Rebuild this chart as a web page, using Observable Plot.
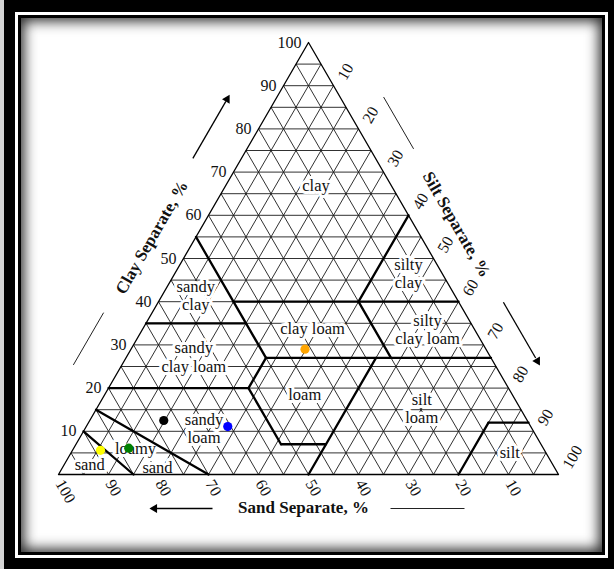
<!DOCTYPE html>
<html>
<head>
<meta charset="utf-8">
<script src="https://cdn.jsdelivr.net/npm/d3@7"></script>
<script src="https://cdn.jsdelivr.net/npm/@observablehq/plot@0.6"></script>
<style>
html, body { margin: 0; padding: 0; width: 614px; height: 569px; overflow: hidden; background: #000; }
#strip { position: absolute; left: 0; top: 0; width: 4px; height: 569px; background: #d4d4d4; }
#f1 { position: absolute; left: 15px; top: 12px; width: 593px; height: 546px; background: #fff; }
#f2 { position: absolute; left: 18px; top: 15px; width: 587px; height: 540px; background: #000; }
#f3 { position: absolute; left: 21px; top: 18px; width: 581px; height: 534px; background: #fff;
      box-shadow: inset 0 0 13px 3px rgba(0,0,0,0.85); }
#chart { position: absolute; left: 0; top: 0; }
</style>
</head>
<body>
<div id="strip"></div>
<div id="f1"></div>
<div id="f2"></div>
<div id="f3"></div>
<div id="chart"></div>
<script>
// ---------- data ----------
const gridSteps = [5, 10, 15, 20, 25, 30, 35, 40, 45, 50, 55, 60, 65, 70, 75, 80, 85, 90, 95];
const clayTicks = [10, 20, 30, 40, 50, 60, 70, 80, 90, 100];
const siltTicks = [10, 20, 30, 40, 50, 60, 70, 80, 90, 100];
const sandTicks = [100, 90, 80, 70, 60, 50, 40, 30, 20, 10];

// texture class labels (position in % clay / % silt)
const classNames = ["clay", "sandy\nclay", "sandy\nclay loam", "clay loam", "silty\nclay",
  "silty\nclay loam", "loam", "silt\nloam", "silt", "sandy\nloam", "loamy", "sand", "sand"];
const classClay = [67, 41.5, 27.3, 33.8, 46.6, 33.6, 18.5, 15.3, 5.1, 10.8, 6.0, 1.6, 2.5];
const classSilt = [18, 6.7, 13.4, 33.9, 46.7, 57, 40, 65, 87.7, 23.7, 12.4, 19, 5];

// USDA class boundaries: segment from (clay, silt) to (clay, silt)
const boundFromClay = [40, 55, 60, 35, 27, 40, 20, 20, 20, 7, 27, 0, 12, 15, 10];
const boundFromSilt = [15, 0, 40, 0, 28, 40, 0, 28, 28, 41, 50, 80, 80, 0, 0];
const boundToClay   = [40, 27, 40, 35, 27, 27, 20, 27, 7, 7, 0, 12, 12, 0, 0];
const boundToSilt   = [60, 28, 40, 20, 73, 53, 28, 28, 41, 50, 50, 80, 88, 30, 15];

// samples
const sampleColors = ["black", "blue", "yellow", "green", "orange"];
const sampleSand = [72.7, 60.6, 88.8, 82.9, 36.2];
const sampleSilt = [14.8, 28.3, 5.6, 11.0, 34.8];
const sampleClay = [12.5, 11.1, 5.6, 6.1, 29.0];

// ---------- ternary helpers ----------
const tx = (clay, silt) => silt + clay / 2; // horizontal coordinate
const ty = (clay) => clay;                   // vertical coordinate

const grid = [];
for (const c of gridSteps) grid.push({x1: tx(c, 0), y1: ty(c), x2: tx(c, 100 - c), y2: ty(c)});
for (const s of gridSteps) grid.push({x1: tx(0, s), y1: ty(0), x2: tx(100 - s, s), y2: ty(100 - s)});
for (const a of gridSteps) { const r = 100 - a; grid.push({x1: tx(0, r), y1: ty(0), x2: tx(r, 0), y2: ty(r)}); }

const bounds = boundFromClay.map((c, i) => ({
  x1: tx(c, boundFromSilt[i]), y1: ty(c),
  x2: tx(boundToClay[i], boundToSilt[i]), y2: ty(boundToClay[i])
}));

const outline = [[0, 0], [0, 100], [100, 0], [0, 0]].map(([c, s]) => ({x: tx(c, s), y: ty(c)}));

const classLabels = classNames.map((t, i) => ({t, x: tx(classClay[i], classSilt[i]), y: ty(classClay[i])}));
const samples = sampleColors.map((col, i) => ({col, x: tx(sampleClay[i], sampleSilt[i]), y: ty(sampleClay[i]), sand: sampleSand[i]}));

const clayLab = clayTicks.map(c => ({t: String(c), x: tx(c, 0), y: ty(c)}));
const siltLab = siltTicks.map(s => ({t: String(s), x: tx(100 - s, s), y: ty(100 - s)}));
const sandLab = sandTicks.map(a => ({t: String(a), x: tx(0, 100 - a), y: 0}));

// axis decorations placed along each edge, offset outward in pixels
const leftEdge = (c) => ({x: tx(c, 0), y: ty(c)});
const rightEdge = (s) => ({x: tx(100 - s, s), y: ty(100 - s)});
const bottomEdge = (a) => ({x: tx(0, 100 - a), y: 0});
const seg = (p, q) => ({x1: p.x, y1: p.y, x2: q.x, y2: q.y});
const L = {x1: "x1", y1: "y1", x2: "x2", y2: "y2"};

const serif = "'Liberation Serif', 'Times New Roman', Times, serif";

const chart = Plot.plot({
  width: 614,
  height: 569,
  margin: 0,
  x: {domain: [0, 100], range: [58, 558], axis: null},
  y: {domain: [0, 100], range: [474, 42], axis: null},
  style: {background: "transparent", fontFamily: serif, color: "black"},
  marks: [
    Plot.link(grid, {...L, stroke: "#1a1a1a", strokeWidth: 0.9}),
    Plot.text(classLabels, {x: "x", y: "y", text: "t", fontSize: 16.5, lineHeight: 1.11,
      fill: "#111", stroke: "white", strokeWidth: 6, paintOrder: "stroke"}),
    Plot.link(bounds, {...L, stroke: "#000", strokeWidth: 2.3, strokeLinecap: "round"}),
    Plot.line(outline, {x: "x", y: "y", stroke: "#000", strokeWidth: 1.3}),
    Plot.dot(samples, {x: "x", y: "y", fill: "col", r: 4.6}),
    Plot.text(clayLab, {x: "x", y: "y", text: "t", fontSize: 16, textAnchor: "end", dx: -7, fill: "#111"}),
    Plot.text(siltLab, {x: "x", y: "y", text: "t", fontSize: 16, textAnchor: "start", rotate: -60, dx: 8, dy: -7, fill: "#111"}),
    Plot.text(sandLab, {x: "x", y: "y", text: "t", fontSize: 16, textAnchor: "start", rotate: 60, dx: 1, dy: 6.5, fill: "#111"}),
    // axis titles
    Plot.text([leftEdge(50.5)], {x: "x", y: "y", text: () => "Clay Separate, %", rotate: -60,
      dx: -33, dy: -19, fontSize: 17, fontWeight: "bold", fill: "#111"}),
    Plot.text([rightEdge(46.4)], {x: "x", y: "y", text: () => "Silt Separate, %", rotate: 60,
      dx: 32, dy: -18.5, fontSize: 17, fontWeight: "bold", fill: "#111"}),
    Plot.text([bottomEdge(51)], {x: "x", y: "y", text: () => "Sand Separate, %",
      dy: 33, fontSize: 17, fontWeight: "bold", fill: "#111"}),
    // plain lines
    Plot.link([seg(leftEdge(20.5), leftEdge(32.6))], {...L, dx: -36.4, dy: -21, stroke: "#222", strokeWidth: 1}),
    Plot.link([seg(rightEdge(17), rightEdge(29))], {...L, dx: 32.6, dy: -18.9, stroke: "#222", strokeWidth: 1}),
    Plot.link([seg(bottomEdge(33.6), bottomEdge(18.8))], {...L, dy: 34, stroke: "#222", strokeWidth: 1}),
    // arrow shafts
    Plot.link([seg(leftEdge(68.3), leftEdge(81.5))], {...L, dx: -36.4, dy: -21, stroke: "#000", strokeWidth: 1.3}),
    Plot.link([seg(rightEdge(64.6), rightEdge(77.5))], {...L, dx: 33.4, dy: -19.3, stroke: "#000", strokeWidth: 1.3}),
    Plot.link([seg(bottomEdge(69.2), bottomEdge(80.5))], {...L, dy: 34, stroke: "#000", strokeWidth: 1.3}),
    // filled arrow heads
    Plot.dot([leftEdge(82)], {x: "x", y: "y", symbol: "triangle2", r: 4.2, fill: "#000", rotate: 30, dx: -36.4, dy: -21}),
    Plot.dot([rightEdge(78.2)], {x: "x", y: "y", symbol: "triangle2", r: 4.2, fill: "#000", rotate: 150, dx: 33.4, dy: -19.3}),
    Plot.dot([bottomEdge(80.8)], {x: "x", y: "y", symbol: "triangle2", r: 4.2, fill: "#000", rotate: -90, dy: 34})
  ]
});
document.getElementById("chart").appendChild(chart);
</script>
</body>
</html>
